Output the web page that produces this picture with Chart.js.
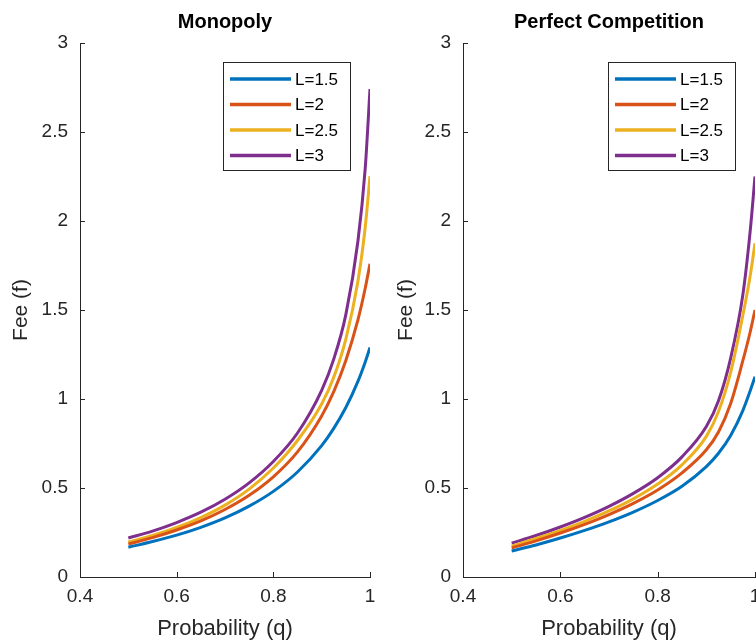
<!DOCTYPE html>
<html lang="en">
<head>
    <meta charset="UTF-8">
    <title>Fee vs Probability</title>
    <style>
        html, body {
            margin: 0;
            padding: 0;
            background: #fff;
            overflow: hidden;
            width: 756px;
            height: 642px;
        }

        .panel {
            position: absolute;
            top: 0;
            height: 642px;
        }

        #leftPanel { left: 0; width: 390px; }
        #rightPanel { left: 385px; width: 400px; }
    </style>
</head>
<body>
    <div class="panel" id="leftPanel"><canvas id="monoChart" width="390" height="642" style="width:390px;height:642px"></canvas></div>
    <div class="panel" id="rightPanel"><canvas id="pcChart" width="400" height="642" style="width:400px;height:642px"></canvas></div>

    <script src="https://cdn.jsdelivr.net/npm/chart.js"></script>
    <script>
        // probability values (x) shared by all curves
        const qValues = [0.5, 0.55, 0.6, 0.65, 0.7, 0.75, 0.8, 0.85, 0.9, 0.925, 0.95, 0.975, 0.99, 1];

        // Monopoly
        const monoL15 = [0.167, 0.199, 0.235, 0.279, 0.332, 0.398, 0.481, 0.590, 0.738, 0.835, 0.952, 1.099, 1.207, 1.289];
        const monoL2 = [0.185, 0.221, 0.264, 0.315, 0.379, 0.459, 0.563, 0.703, 0.905, 1.041, 1.216, 1.444, 1.621, 1.760];
        const monoL25 = [0.197, 0.233, 0.278, 0.334, 0.404, 0.494, 0.612, 0.767, 0.972, 1.122, 1.337, 1.662, 1.962, 2.252];
        const monoL3 = [0.219, 0.258, 0.306, 0.364, 0.437, 0.529, 0.649, 0.809, 1.049, 1.224, 1.474, 1.886, 2.291, 2.741];

        // Perfect competition
        const pcL15 = [0.146, 0.180, 0.219, 0.262, 0.310, 0.365, 0.430, 0.510, 0.620, 0.695, 0.795, 0.935, 1.045, 1.125];
        const pcL2 = [0.163, 0.203, 0.247, 0.296, 0.351, 0.414, 0.489, 0.585, 0.715, 0.815, 0.975, 1.215, 1.375, 1.500];
        const pcL25 = [0.174, 0.216, 0.262, 0.313, 0.371, 0.439, 0.522, 0.630, 0.790, 0.930, 1.150, 1.470, 1.690, 1.875];
        const pcL3 = [0.190, 0.233, 0.281, 0.335, 0.397, 0.470, 0.558, 0.675, 0.845, 0.990, 1.230, 1.585, 1.940, 2.250];

        const seriesLabels = ['L=1.5', 'L=2', 'L=2.5', 'L=3'];
        const seriesColors = ['#0072BD', '#D95319', '#EDB120', '#7E2F8E'];
        const xTicks = [0.4, 0.6, 0.8, 1];
        const yTicks = [0, 0.5, 1, 1.5, 2, 2.5, 3];

        const axisColor = '#262626';
        const fontFamily = '"Liberation Sans", Arial, Helvetica, sans-serif';

        // MATLAB style: inward tick marks + boxed legend in the top right corner
        const matlabLook = {
            id: 'matlabLook',
            afterDraw(chart) {
                const ctx = chart.ctx;
                const area = chart.chartArea;
                const xs = chart.scales.x;
                const ys = chart.scales.y;

                ctx.save();
                ctx.strokeStyle = axisColor;
                ctx.lineWidth = 1;
                ctx.beginPath();
                xTicks.forEach(v => {
                    const px = Math.round(xs.getPixelForValue(v)) + 0.5;
                    ctx.moveTo(px, area.bottom);
                    ctx.lineTo(px, area.bottom - 5);
                });
                yTicks.forEach(v => {
                    const py = Math.round(ys.getPixelForValue(v)) + 0.5;
                    ctx.moveTo(area.left, py);
                    ctx.lineTo(area.left + 5, py);
                });
                ctx.stroke();

                // legend
                const bw = 127, bh = 108;
                const bx = Math.round(area.right - 20 - bw);
                const by = Math.round(area.top + 19);
                ctx.fillStyle = '#fff';
                ctx.fillRect(bx, by, bw, bh);
                ctx.strokeStyle = axisColor;
                ctx.strokeRect(bx + 0.5, by + 0.5, bw, bh);

                ctx.font = '17px ' + fontFamily;
                ctx.textBaseline = 'middle';
                chart.data.datasets.forEach((ds, i) => {
                    const y = by + 17 + i * 25.5;
                    ctx.strokeStyle = ds.borderColor;
                    ctx.lineWidth = 3.5;
                    ctx.beginPath();
                    ctx.moveTo(bx + 7, y);
                    ctx.lineTo(bx + 68, y);
                    ctx.stroke();
                    ctx.fillStyle = '#000';
                    ctx.fillText(ds.label, bx + 72, y + 1);
                });
                ctx.restore();
            }
        };

        function makeDatasets(seriesList) {
            return seriesList.map((vals, i) => ({
                label: seriesLabels[i],
                data: qValues.map((q, j) => ({ x: q, y: vals[j] })),
                borderColor: seriesColors[i],
                backgroundColor: seriesColors[i],
                borderWidth: 3,
                pointRadius: 0,
                fill: false,
                cubicInterpolationMode: 'monotone'
            }));
        }

        function makeChart(canvasId, title, seriesList, yAxisWidth, rightPad) {
            const ctx = document.getElementById(canvasId).getContext('2d');
            return new Chart(ctx, {
                type: 'line',
                data: { datasets: makeDatasets(seriesList) },
                options: {
                    responsive: false,
                    animation: false,
                    layout: { padding: { left: 0, right: rightPad, top: 0, bottom: 0 } },
                    plugins: {
                        legend: { display: false },
                        tooltip: { enabled: false },
                        title: {
                            display: true,
                            text: title,
                            fullSize: false,
                            color: '#000',
                            font: { family: fontFamily, size: 20, weight: 'bold', lineHeight: 1.2 },
                            padding: { top: 10, bottom: 9 }
                        }
                    },
                    scales: {
                        x: {
                            type: 'linear',
                            min: 0.4,
                            max: 1,
                            afterBuildTicks: s => { s.ticks = xTicks.map(v => ({ value: v })); },
                            afterFit: s => { s.height = 65; },
                            grid: { display: false, drawTicks: false },
                            border: { display: true, color: axisColor, width: 1 },
                            ticks: {
                                color: axisColor,
                                padding: 8,
                                maxRotation: 0,
                                autoSkip: false,
                                font: { family: fontFamily, size: 19 },
                                callback: v => String(v)
                            },
                            title: {
                                display: true,
                                text: 'Probability (q)',
                                color: axisColor,
                                font: { family: fontFamily, size: 22 },
                                padding: { top: 0, bottom: 0 }
                            }
                        },
                        y: {
                            min: 0,
                            max: 3,
                            afterBuildTicks: s => { s.ticks = yTicks.map(v => ({ value: v })); },
                            afterFit: s => { s.width = yAxisWidth; },
                            grid: { display: false, drawTicks: false },
                            border: { display: true, color: axisColor, width: 1 },
                            ticks: {
                                color: axisColor,
                                padding: 12,
                                autoSkip: false,
                                font: { family: fontFamily, size: 19 },
                                callback: v => String(v)
                            },
                            title: {
                                display: true,
                                text: 'Fee (f)',
                                color: axisColor,
                                font: { family: fontFamily, size: 21 },
                                padding: { top: 9, bottom: 0 }
                            }
                        }
                    }
                },
                plugins: [matlabLook]
            });
        }

        makeChart('monoChart', 'Monopoly', [monoL15, monoL2, monoL25, monoL3], 80, 20);
        makeChart('pcChart', 'Perfect Competition', [pcL15, pcL2, pcL25, pcL3], 78, 30);
    </script>
</body>
</html>
